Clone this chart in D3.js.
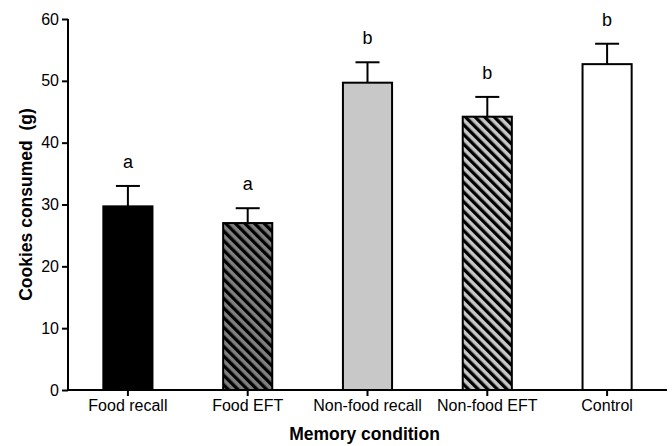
<!DOCTYPE html>
<html>
<head>
<meta charset="utf-8">
<script src="https://cdn.jsdelivr.net/npm/d3@7"></script>
<style>
  body { margin: 0; background: #fff; }
  svg text { font-family: "Liberation Sans", Arial, sans-serif; }
</style>
</head>
<body>
<svg width="672" height="446"></svg>
<script>
// data
var conditions = ["Food recall", "Food EFT", "Non-food recall", "Non-food EFT", "Control"];
var means = [29.7, 27.0, 49.7, 44.2, 52.7];
var errors = [3.3, 2.4, 3.3, 3.2, 3.3];
var letters = ["a", "a", "b", "b", "b"];
var fills = ["#000000", "url(#stripeGray)", "#c8c8c8", "url(#stripeLight)", "#ffffff"];
var yTicks = [0, 10, 20, 30, 40, 50, 60];

var svg = d3.select("svg");

// hatch patterns for the EFT bars ("\" direction)
var defs = svg.append("defs");
var makeStripes = function(id, bg) {
    var p = defs.append("pattern")
        .attr("id", id)
        .attr("patternUnits", "userSpaceOnUse")
        .attr("width", 6.8).attr("height", 6.8)
        .attr("patternTransform", "rotate(-45)");
    p.append("rect").attr("width", 6.8).attr("height", 6.8).attr("fill", bg);
    p.append("rect").attr("width", 3.3).attr("height", 6.8).attr("fill", "#000");
};
makeStripes("stripeGray", "#808080");
makeStripes("stripeLight", "#c8c8c8");

// plot area (NB: "top" is a reserved window global, so use pTop)
var pLeft = 68, pRight = 667, pTop = 19, pBottom = 390;

var x = d3.scaleBand()
    .domain(conditions)
    .range([pLeft, pRight])
    .paddingInner(0.59)
    .paddingOuter(0.295);

var y = d3.scaleLinear().domain([0, 60]).range([pBottom, pTop]);

// bars
svg.append("g").selectAll("rect")
    .data(conditions).enter()
    .append("rect")
    .attr("x", d => x(d))
    .attr("y", (d, i) => y(means[i]))
    .attr("width", x.bandwidth())
    .attr("height", (d, i) => y(0) - y(means[i]))
    .attr("fill", (d, i) => fills[i])
    .attr("stroke", "#000")
    .attr("stroke-width", 2);

// error bars (upper only)
var eb = svg.append("g").attr("stroke", "#000").attr("stroke-width", 2);
conditions.forEach(function(d, i) {
    var cx = x(d) + x.bandwidth() / 2;
    eb.append("line")
        .attr("x1", cx).attr("x2", cx)
        .attr("y1", y(means[i])).attr("y2", y(means[i] + errors[i]));
    eb.append("line")
        .attr("x1", cx - 12).attr("x2", cx + 12)
        .attr("y1", y(means[i] + errors[i])).attr("y2", y(means[i] + errors[i]));
});

// significance letters
svg.append("g").selectAll("text")
    .data(conditions).enter()
    .append("text")
    .attr("x", d => x(d) + x.bandwidth() / 2)
    .attr("y", (d, i) => y(means[i] + errors[i]) - 18)
    .attr("text-anchor", "middle")
    .attr("font-size", 18)
    .text((d, i) => letters[i]);

// axes
var yAxis = svg.append("g")
    .attr("transform", "translate(" + pLeft + ",0)")
    .call(d3.axisLeft(y).tickValues(yTicks).tickSize(6).tickPadding(3).tickSizeOuter(0));
var xAxis = svg.append("g")
    .attr("transform", "translate(0," + pBottom + ")")
    .call(d3.axisBottom(x).tickSize(6).tickPadding(4).tickSizeOuter(0));

[yAxis, xAxis].forEach(function(g) {
    g.attr("font-size", 16).attr("font-family", "Liberation Sans, Arial, sans-serif");
    g.select(".domain").attr("stroke-width", 2);
    g.selectAll(".tick line").attr("stroke-width", 2);
    g.selectAll(".tick text").attr("fill", "#000");
});
// axis lines meet at the corner
xAxis.select(".domain").attr("d", "M" + (pLeft - 1) + ",0H" + pRight);
yAxis.select(".domain").attr("d", "M0," + (pBottom + 1) + "V" + pTop);

// axis titles
svg.append("text")
    .attr("x", (pLeft + pRight) / 2 - 3)
    .attr("y", 440)
    .attr("text-anchor", "middle")
    .attr("font-size", 17.5)
    .attr("font-weight", "bold")
    .text("Memory condition");

svg.append("text")
    .attr("transform", "translate(32," + ((pTop + pBottom) / 2) + ") rotate(-90)")
    .attr("text-anchor", "middle")
    .attr("font-size", 17.5)
    .attr("font-weight", "bold")
    .style("white-space", "pre")
    .text("Cookies consumed  (g)");
</script>
</body>
</html>
